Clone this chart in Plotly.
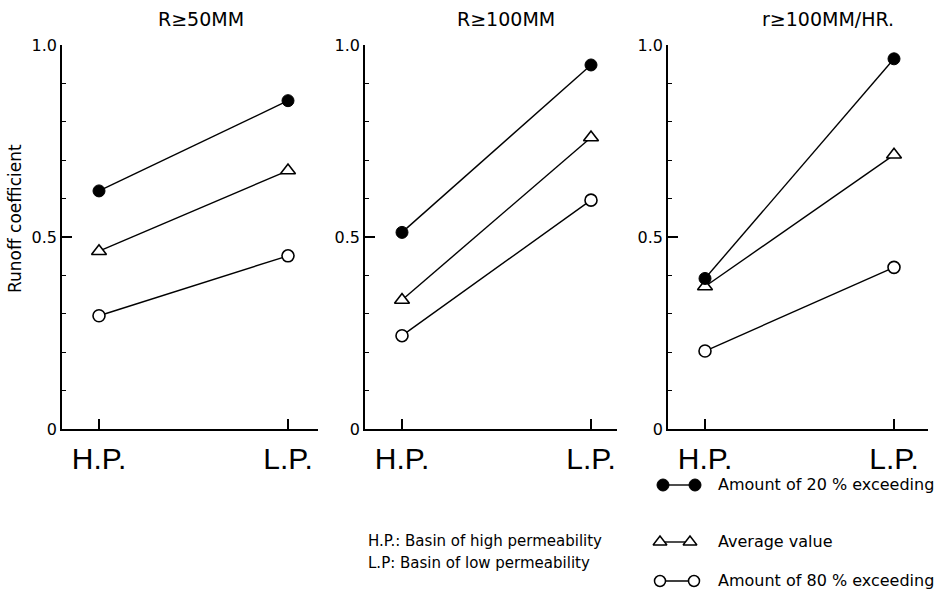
import plotly.graph_objects as go

# ---- data -------------------------------------------------------------
basins = ["H.P.", "L.P."]
panel_titles = ["R≥50MM", "R≥100MM", "r≥100MM/HR."]

exceed20 = [[0.620, 0.855], [0.512, 0.948], [0.392, 0.964]]
average = [[0.463, 0.673], [0.336, 0.759], [0.371, 0.714]]
exceed80 = [[0.295, 0.451], [0.243, 0.596], [0.203, 0.421]]

y_tickvals = [0, 0.5, 1.0]
y_ticktext = ["0", "0.5", "1.0"]

legend_labels = ["Amount of 20 % exceeding", "Average value", "Amount of 80 % exceeding"]
note_labels = ["H.P.: Basin of high permeability", "L.P: Basin of low permeability"]

# ---- layout constants (pixels of a 948 x 589 page) --------------------
W, H = 948, 589
panel_px = [(62, 318), (365, 617), (668, 928)]   # left/right edge of each x axis
tick_px = [37, 226]                              # offset of H.P. / L.P. from y axis
y_top, y_bot = 45, 429
title_px = [201, 506, 828]

FONT = "DejaVu Sans, Liberation Sans, Arial"
BIG = "Liberation Sans, Arial"


def note(text, x, y, size, xanchor="center", angle=0):
    fig.add_annotation(
        text=text, x=x / W, y=1 - y / H, xref="paper", yref="paper",
        xanchor=xanchor, yanchor="middle", textangle=angle, showarrow=False,
        font=dict(family=FONT, size=size, color="black"),
    )


fig = go.Figure()

series_styles = [
    (exceed80, dict(symbol="circle", size=12, color="white", line=dict(color="black", width=1.6))),
    (average, dict(symbol="triangle-up", size=13, color="white", line=dict(color="black", width=1.6))),
    (exceed20, dict(symbol="circle", size=12, color="black", line=dict(color="black", width=1))),
]

for i in range(3):
    ax = "" if i == 0 else str(i + 1)
    for values, marker in series_styles:
        fig.add_trace(go.Scatter(
            x=[0, 1], y=values[i], mode="lines+markers",
            line=dict(color="black", width=1.4),
            marker=marker, cliponaxis=False, showlegend=False,
            xaxis="x" + ax, yaxis="y" + ax, hoverinfo="skip",
        ))

    x0, x1 = panel_px[i]
    unit = tick_px[1] - tick_px[0]
    xr = [-tick_px[0] / unit, (x1 - x0 - tick_px[0]) / unit]
    fig.layout["xaxis" + ax] = dict(
        domain=[x0 / W, x1 / W], range=xr, anchor="y" + ax,
        showline=True, linecolor="black", linewidth=2.2,
        showgrid=False, zeroline=False,
        tickvals=[0, 1], ticktext=basins,
        ticks="inside", ticklen=10, tickwidth=1.5, tickcolor="black",
        ticklabelstandoff=2,
        tickfont=dict(family=BIG, size=30, color="black"),
        fixedrange=True,
    )
    fig.layout["yaxis" + ax] = dict(
        domain=[1 - y_bot / H, 1 - y_top / H], range=[0, 1], anchor="x" + ax,
        showline=True, linecolor="black", linewidth=1.6,
        showgrid=False, zeroline=False,
        tickvals=y_tickvals, ticktext=y_ticktext,
        ticks="inside", ticklen=10, tickwidth=1.6, tickcolor="black",
        minor=dict(dtick=0.1, ticks="inside", ticklen=4, tickwidth=1.2, tickcolor="black"),
        tickfont=dict(family=FONT, size=16, color="black"),
        fixedrange=True,
    )
    note(panel_titles[i], title_px[i], 19, 19)

# y axis title
note("Runoff coefficient", 15, 219, 17, angle=-90)

# ---- key drawn on a full-page overlay axis ----------------------------
key_rows = [
    (485, 663, 695, dict(symbol="circle", size=12, color="black", line=dict(color="black", width=1))),
    (542, 660, 690, dict(symbol="triangle-up", size=12, color="white", line=dict(color="black", width=1.5))),
    (581, 660, 694, dict(symbol="circle", size=11, color="white", line=dict(color="black", width=1.5))),
]
for (yy, xa, xb, mk), label in zip(key_rows, legend_labels):
    fig.add_trace(go.Scatter(
        x=[xa, xb], y=[yy, yy], mode="lines+markers",
        line=dict(color="black", width=1.4), marker=mk,
        cliponaxis=False, showlegend=False, hoverinfo="skip",
        xaxis="x4", yaxis="y4",
    ))
    note(label, 716, yy - 1, 16, xanchor="left")

for yy, label in zip([541, 563], note_labels):
    note(label, 366, yy, 15, xanchor="left")

fig.layout["xaxis4"] = dict(domain=[0, 1], range=[0, W], visible=False, fixedrange=True, anchor="y4")
fig.layout["yaxis4"] = dict(domain=[0, 1], range=[H, 0], visible=False, fixedrange=True, anchor="x4")

fig.update_layout(
    width=W, height=H,
    margin=dict(l=0, r=0, t=0, b=0, autoexpand=False),
    paper_bgcolor="white", plot_bgcolor="rgba(0,0,0,0)",
    showlegend=False,
)

fig.write_html("out.html", config={"displayModeBar": False})
